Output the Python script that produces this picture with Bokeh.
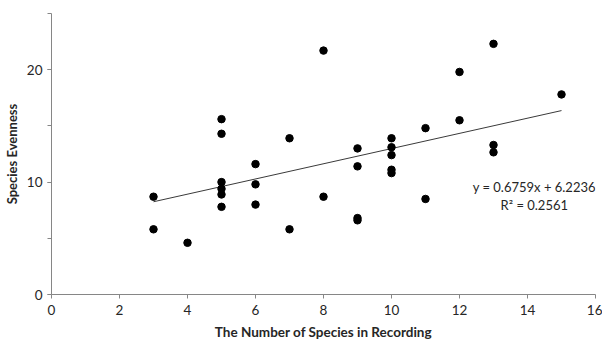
from bokeh.plotting import figure
from bokeh.models import FixedTicker, Label, Range1d
from bokeh.embed import file_html
from bokeh.resources import INLINE

# data
species_count = [3, 3, 4, 5, 5, 5, 5, 5, 5, 6, 6, 6, 7, 7, 8, 8, 9, 9, 9, 9,
                 10, 10, 10, 10, 10, 11, 11, 12, 12, 13, 13, 13, 15]
evenness = [8.7, 5.8, 4.6, 15.6, 14.3, 10.0, 9.4, 8.9, 7.8, 11.6, 9.8, 8.0,
            13.9, 5.8, 21.7, 8.7, 13.0, 11.4, 6.8, 6.6,
            13.9, 13.1, 12.4, 11.1, 10.8, 14.8, 8.5, 19.8, 15.5, 22.3, 13.3, 12.65, 17.8]
slope = 0.6759
intercept = 6.2236
r_squared = 0.2561
x_ticks = [0, 2, 4, 6, 8, 10, 12, 14, 16]
y_ticks = [0, 10, 20]
y_minor = [0, 5, 10, 15, 20, 25]

FONT = "Lato"
AXIS_COL = "#868686"
TEXT_COL = "#262626"

p = figure(frame_width=544, frame_height=281, output_backend="svg", toolbar_location=None,
           x_range=Range1d(0, 16), y_range=Range1d(0, 25),
           min_border_left=46, min_border_right=7, min_border_top=13, min_border_bottom=40)
p.outline_line_color = None
p.xgrid.visible = False
p.ygrid.visible = False

# trendline
x0, x1 = min(species_count), max(species_count)
p.line([x0, x1], [slope * x0 + intercept, slope * x1 + intercept],
       line_color="#3a3a3a", line_width=1)

p.scatter(species_count, evenness, size=7.5, fill_color="black", line_color="black")

for ax in (p.xaxis[0], p.yaxis[0]):
    ax.axis_line_color = AXIS_COL
    ax.major_tick_line_color = AXIS_COL
    ax.minor_tick_line_color = AXIS_COL
    ax.major_tick_in = 0
    ax.major_tick_out = 4
    ax.minor_tick_in = 0
    ax.minor_tick_out = 4
    ax.major_label_text_font = FONT
    ax.major_label_text_font_size = "13.5px"
    ax.major_label_text_color = TEXT_COL
    ax.axis_label_text_font = FONT
    ax.axis_label_text_font_style = "bold"
    ax.axis_label_text_color = TEXT_COL

p.xaxis.axis_label_text_font_size = "13.5px"
p.yaxis.axis_label_text_font_size = "13px"
p.xaxis.ticker = FixedTicker(ticks=x_ticks, minor_ticks=[])
p.yaxis.ticker = FixedTicker(ticks=y_ticks, minor_ticks=y_minor)
p.xaxis.axis_label = "The Number of Species in Recording"
p.yaxis.axis_label = "Species Evenness"
p.xaxis.major_label_standoff = 6
p.yaxis.major_label_standoff = 5
p.xaxis.axis_label_standoff = 6
p.yaxis.axis_label_standoff = 4

eq = "y = %.4fx + %.4f" % (slope, intercept)
r2 = "R² = %.4f" % r_squared
p.add_layout(Label(x=14.2, y=9.6, text=eq, text_font=FONT, text_font_size="13px",
                   text_color=TEXT_COL, text_align="center", text_baseline="middle"))
p.add_layout(Label(x=14.2, y=8.0, text=r2, text_font=FONT, text_font_size="13px",
                   text_color=TEXT_COL, text_align="center", text_baseline="middle"))

open("out.html", "w").write(file_html(p, INLINE))
